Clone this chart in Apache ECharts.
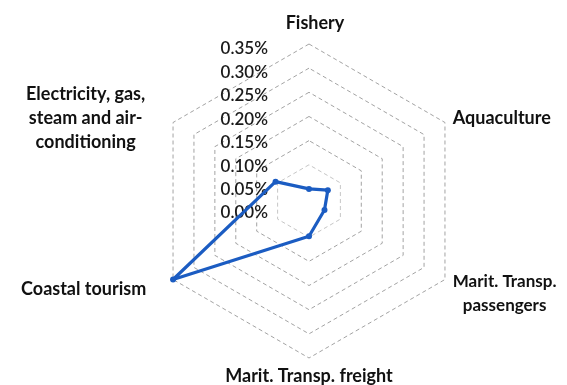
<!DOCTYPE html>
<html>
<head>
<meta charset="utf-8">
<script src="https://cdn.jsdelivr.net/npm/echarts@6/dist/echarts.min.js"></script>
<style>
  html, body { margin: 0; padding: 0; background: #ffffff; }
  #chart { width: 567px; height: 385px; }
</style>
</head>
<body>
<div id="chart"></div>
<script>
// Sectors shown on the radar, in the radar's own (counter-clockwise) order from the top
const sectorNames = [
  'Fishery',
  'Electricity, gas,\nsteam and air-\nconditioning',
  'Coastal tourism',
  'Marit. Transp. freight',
  'Marit. Transp.\npassengers',
  'Aquaculture'
];

// Share of each sector (in %)
const sectorShares = [0.05, 0.105, 0.35, 0.098, 0.062, 0.07];

// Scale labels printed beside the upper spoke
const tickLabels = ['0.00%', '0.05%', '0.10%', '0.15%', '0.20%', '0.25%', '0.30%', '0.35%'];

// Radial range of the radar (in %)
const radialMin = 0.025;
const radialMax = 0.35;

// Rich-text style key for each sector name
const nameStyleKeys = ['top', 'left', 'leftLow', 'bottom', 'rightLow', 'right'];

const FONT = 'Lato, "Noto Sans", sans-serif';
const BLUE = '#1b5cc2';

// Ring colours: one entry per split (every 0.025%), only the 0.05% steps from 0.10% are drawn
const ringColors = [];
for (let i = 0; i <= 13; i++) {
  if (i < 3 || i % 2 === 0) ringColors.push('rgba(0,0,0,0)');
  else if (i === 3) ringColors.push('#c6c6c6');
  else ringColors.push('#a3a3a3');
}

function formatName(name) {
  const key = nameStyleKeys[sectorNames.indexOf(name)];
  const lines = name.split('\n').map(l => '{' + key + '|' + l + '}');
  if (key === 'rightLow') return '{gapRight| }\n' + lines.join('\n');
  if (key === 'leftLow') return '{gapLeft| }\n' + lines.join('\n');
  return lines.join('\n');
}

const nameText = { fontFamily: FONT, fontSize: 18, fontWeight: 'bold', color: '#111111', lineHeight: 24 };

const chart = echarts.init(document.getElementById('chart'), null, { renderer: 'canvas' });

chart.setOption({
  animation: false,
  backgroundColor: '#ffffff',
  radar: {
    center: [309, 201],
    radius: 157,
    startAngle: 90,
    shape: 'polygon',
    splitNumber: 13,
    nameGap: 9,
    indicator: sectorNames.map(n => ({ name: n, min: radialMin, max: radialMax })),
    axisLine: { show: false },
    axisTick: { show: false },
    axisLabel: { show: false },
    splitArea: { show: false },
    splitLine: { lineStyle: { color: ringColors, width: 1, type: [4, 3] } },
    axisName: {
      formatter: formatName,
      fontFamily: FONT,
      fontSize: 18,
      fontWeight: 'bold',
      color: '#111111',
      rich: {
        top: Object.assign({}, nameText, { padding: [0, 0, 0, 12] }),
        bottom: Object.assign({}, nameText, { lineHeight: 18 }),
        right: Object.assign({}, nameText, { align: 'center' }),
        rightLow: Object.assign({}, nameText, { align: 'center', fontSize: 17 }),
        left: Object.assign({}, nameText, { align: 'center', padding: [0, 20, 0, 0] }),
        leftLow: Object.assign({}, nameText, { padding: [0, 19, 0, 0] }),
        gapRight: { fontSize: 6, lineHeight: 20 },
        gapLeft: { fontSize: 6, lineHeight: 10 }
      }
    }
  },
  // Plain category axis carrying the percentage scale labels
  grid: { left: 276, top: 49, width: 10, height: 164, containLabel: false },
  xAxis: { type: 'value', show: false },
  yAxis: {
    type: 'category',
    data: tickLabels,
    boundaryGap: false,
    axisLine: { show: false },
    axisTick: { show: false },
    splitLine: { show: false },
    axisLabel: {
      margin: 8,
      fontFamily: FONT,
      fontSize: 17,
      fontWeight: 600,
      color: '#1a1a1a',
      interval: 0
    }
  },
  series: [{
    type: 'radar',
    symbol: 'circle',
    symbolSize: 6,
    lineStyle: { color: BLUE, width: 3.2 },
    itemStyle: { color: BLUE },
    areaStyle: null,
    data: [{ value: sectorShares, name: 'Share' }]
  }]
});
</script>
</body>
</html>
